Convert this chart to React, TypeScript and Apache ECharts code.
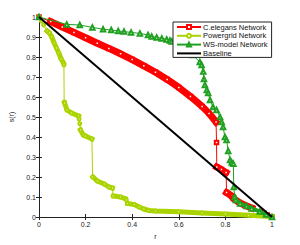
import React, { useEffect, useRef } from "react";
import * as echarts from "echarts";

const seriesNames = ["C.elegans Network", "Powergrid Network", "WS-model Network", "Baseline"];

// C.elegans: full path (thin line + hollow squares) and dense parts (thick band)
const celegansPath: number[][] = [
  [0, 1], [0.05, 0.977], [0.1, 0.95], [0.15, 0.923], [0.2, 0.896], [0.25, 0.869],
  [0.3, 0.843], [0.35, 0.816], [0.4, 0.787], [0.45, 0.756], [0.5, 0.724],
  [0.55, 0.688], [0.6, 0.648], [0.65, 0.603], [0.7, 0.553], [0.73, 0.518],
  [0.76, 0.475], [0.762, 0.373], [0.763, 0.25], [0.783, 0.237], [0.803, 0.222],
  [0.805, 0.122], [0.827, 0.105], [0.834, 0.095], [0.838, 0.09], [0.86, 0.072],
  [0.885, 0.058], [0.913, 0.045], [0.95, 0.025], [0.98, 0.01], [1, 0],
];
const celegansDense: (number | null)[][] = [
  [0.05, 0.977], [0.1, 0.95], [0.15, 0.923], [0.2, 0.896], [0.25, 0.869],
  [0.3, 0.843], [0.35, 0.816], [0.4, 0.787], [0.45, 0.756], [0.5, 0.724],
  [0.55, 0.688], [0.6, 0.648], [0.65, 0.603], [0.7, 0.553], [0.73, 0.518],
  [0.76, 0.475], [0.761, null],
  [0.764, 0.249], [0.783, 0.237], [0.802, 0.223], [0.804, null],
  [0.806, 0.121], [0.827, 0.105], [0.83, null],
  [0.838, 0.09], [0.86, 0.072], [0.885, 0.058], [0.913, 0.045],
];

// Powergrid
const powergridPath: number[][] = [
  [0, 1], [0.01, 0.98], [0.02, 0.96], [0.035, 0.93], [0.045, 0.92], [0.055, 0.9],
  [0.065, 0.87], [0.075, 0.845], [0.085, 0.82], [0.095, 0.79], [0.105, 0.77],
  [0.107, 0.76], [0.108, 0.575], [0.11, 0.57], [0.12, 0.535], [0.14, 0.52],
  [0.17, 0.505], [0.172, 0.49], [0.175, 0.467], [0.178, 0.435], [0.19, 0.41],
  [0.2, 0.405], [0.227, 0.39], [0.23, 0.2], [0.25, 0.18], [0.28, 0.165],
  [0.3, 0.15], [0.315, 0.145], [0.318, 0.105], [0.35, 0.1], [0.37, 0.092],
  [0.375, 0.085], [0.38, 0.068], [0.41, 0.062], [0.43, 0.05], [0.45, 0.04],
  [0.47, 0.033], [0.5, 0.03], [0.6, 0.026], [0.7, 0.02], [0.8, 0.015],
  [0.9, 0.009], [1, 0.002],
];
const powergridDense: (number | null)[][] = [
  [0.035, 0.93], [0.045, 0.92], [0.055, 0.9], [0.065, 0.87], [0.075, 0.845],
  [0.085, 0.82], [0.095, 0.79], [0.105, 0.77], [0.106, null],
  [0.11, 0.57], [0.12, 0.535], [0.14, 0.52], [0.17, 0.505], [0.171, null],
  [0.178, 0.435], [0.19, 0.41], [0.2, 0.405], [0.227, 0.39], [0.228, null],
  [0.232, 0.2], [0.25, 0.18], [0.28, 0.165], [0.3, 0.15], [0.315, 0.145], [0.316, null],
  [0.32, 0.105], [0.35, 0.1], [0.37, 0.092], [0.372, null],
  [0.38, 0.068], [0.41, 0.062], [0.43, 0.05], [0.45, 0.04], [0.47, 0.033],
  [0.5, 0.03], [0.6, 0.026], [0.7, 0.02], [0.8, 0.015], [0.9, 0.009], [1, 0.002],
];

// WS-model
const wsmodelPath: number[][] = [
  [0, 1], [0.119, 0.963], [0.175, 0.96], [0.229, 0.948], [0.275, 0.939],
  [0.31, 0.935], [0.34, 0.93], [0.365, 0.927], [0.395, 0.923], [0.433, 0.918],
  [0.468, 0.91], [0.484, 0.902], [0.505, 0.898], [0.527, 0.893], [0.548, 0.888],
  [0.562, 0.882], [0.57, 0.877], [0.6, 0.86], [0.63, 0.84], [0.66, 0.81],
  [0.69, 0.775], [0.698, 0.76], [0.705, 0.727], [0.708, 0.69], [0.712, 0.66],
  [0.72, 0.635], [0.726, 0.62], [0.734, 0.585], [0.747, 0.55], [0.762, 0.535],
  [0.777, 0.5], [0.784, 0.475], [0.79, 0.45], [0.798, 0.4], [0.805, 0.385],
  [0.812, 0.33], [0.82, 0.285], [0.827, 0.272], [0.834, 0.266], [0.836, 0.15],
  [0.84, 0.1], [0.845, 0.085], [0.863, 0.068], [0.89, 0.055], [0.913, 0.043],
  [0.948, 0.027], [0.975, 0.012], [1, 0],
];
const wsmodelDense: number[][] = [
  [0.84, 0.1], [0.845, 0.085], [0.863, 0.068], [0.89, 0.055], [0.913, 0.043],
  [0.948, 0.027], [0.975, 0.012], [1, 0],
];

const baseline: number[][] = [[0, 1], [1, 0]];

const colors = ["#ff0000", "#aad400", "#20a020", "#000000"];

export default function App() {
  const ref = useRef<HTMLDivElement>(null);
  useEffect(() => {
    if (!ref.current) return;
    const chart = echarts.init(ref.current, undefined, { renderer: "svg" });
    const font = "Liberation Sans, Arial, Helvetica, sans-serif";
    const axisLine = { show: true, lineStyle: { color: "#222", width: 1 } };
    const tick = { show: true, inside: true, length: 3, lineStyle: { color: "#222" } };
    const thin = (name: string, data: any, color: string, symbol: string, size: number, z: number) => ({
      name, type: "line", data, symbol, symbolSize: size, showAllSymbol: true, z,
      connectNulls: false,
      lineStyle: { color, width: 1 },
      itemStyle: { color, borderColor: color, borderWidth: 0.8 },
    });
    const thick = (name: string, data: any, color: string, width: number, z: number) => ({
      name, type: "line", data, symbol: "none", z, connectNulls: false,
      lineStyle: { color, width, cap: "square", join: "round" },
      itemStyle: { color },
    });
    chart.setOption({
      animation: false,
      backgroundColor: "#fff",
      textStyle: { fontFamily: font },
      grid: { left: 39, right: 28, top: 17, bottom: 28, containLabel: false },
      legend: {
        data: [
          { name: seriesNames[0] },
          { name: seriesNames[1] },
          { name: seriesNames[2] },
          { name: seriesNames[3], itemStyle: { opacity: 0, color: "transparent", borderWidth: 0 } },
        ],
        orient: "vertical",
        left: 173,
        top: 22,
        z: 20,
        backgroundColor: "#fff",
        borderColor: "#222",
        borderWidth: 1,
        borderRadius: 0,
        padding: [1, 4, 0, 3],
        itemWidth: 24,
        itemHeight: 5,
        itemGap: 0.8,
        textStyle: { fontSize: 7.5, color: "#111", fontFamily: font, padding: [0, 0, 0, -3] },
      },
      xAxis: [
        {
          type: "value", min: 0, max: 1, interval: 0.2,
          name: "r", nameLocation: "middle", nameGap: 14,
          nameTextStyle: { fontSize: 7, color: "#222", fontFamily: font },
          axisLine, axisTick: tick, splitLine: { show: false },
          axisLabel: { fontSize: 7, color: "#222", margin: 4, fontFamily: font },
        },
        {
          type: "value", min: 0, max: 1, interval: 0.2, position: "top",
          axisLine, axisTick: tick, splitLine: { show: false },
          axisLabel: { show: false },
        },
      ],
      yAxis: [
        {
          type: "value", min: 0, max: 1, interval: 0.1,
          name: "s(r)", nameLocation: "middle", nameGap: 18, nameRotate: 90,
          nameTextStyle: { fontSize: 7, color: "#222", fontFamily: font },
          axisLine, axisTick: tick, splitLine: { show: false },
          axisLabel: { fontSize: 7, color: "#222", margin: 3, fontFamily: font },
        },
        {
          type: "value", min: 0, max: 1, interval: 0.1, position: "right",
          axisLine, axisTick: tick, splitLine: { show: false },
          axisLabel: { show: false },
        },
      ],
      series: [
        thin(seriesNames[0], celegansPath, colors[0], "emptyRect", 3.5, 2),
        thick(seriesNames[0], celegansDense, colors[0], 7, 2),
        thin(seriesNames[1], powergridPath, colors[1], "emptyCircle", 3, 3),
        thick(seriesNames[1], powergridDense, colors[1], 5, 3),
        thin(seriesNames[2], wsmodelPath, colors[2], "emptyTriangle", 4.5, 4),
        thick(seriesNames[2], wsmodelDense, colors[2], 4, 3),
        {
          name: seriesNames[3], type: "line", data: baseline, symbol: "none", z: 5,
          lineStyle: { color: colors[3], width: 2 },
          itemStyle: { color: colors[3] },
        },
      ],
    });
    return () => chart.dispose();
  }, []);
  return <div ref={ref} style={{ width: 300, height: 245, position: "absolute", left: 0, top: 0 }} />;
}
